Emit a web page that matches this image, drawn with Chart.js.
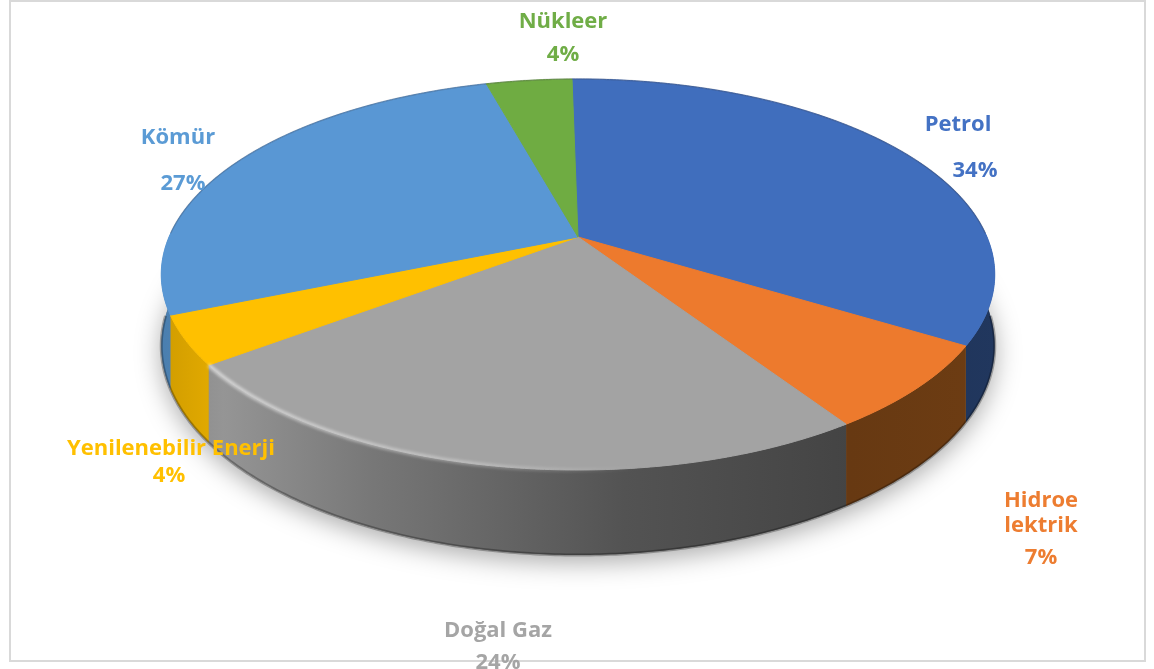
<!DOCTYPE html>
<html lang="tr">
<head>
<meta charset="utf-8">
<title>Enerji kaynakları</title>
<script src="https://cdn.jsdelivr.net/npm/chart.js@4/dist/chart.umd.min.js"></script>
<style>
  html,body{margin:0;padding:0;background:#fff;overflow:hidden}
  canvas{display:block;filter:blur(0.45px)}
</style>
</head>
<body>
<canvas id="pie" width="1154" height="669"></canvas>
<script>
// values as printed next to each slice
const categories = ['Petrol', 'Hidroelektrik', 'Doğal Gaz', 'Yenilenebilir Enerji', 'Kömür', 'Nükleer'];
const shares = [34, 7, 24, 4, 27, 4];
const sliceColors = ['#4472c4', '#ed7d31', '#a5a5a5', '#ffc000', '#5b9bd5', '#70ad47'];
const faceColors = ['#406ebd', '#ed7a2d', '#a3a3a3', '#ffc000', '#5997d4', '#6fac42'];
const sideColors = ['#4a7cd6', '#fb8a2c', '#a5a5a5', '#ffc000', '#5b9bd5', '#70ad47'];

// label text lines and where they sit, one entry per slice
const nameLines = [['Petrol'], ['Hidroe', 'lektrik'], ['Doğal Gaz'], ['Yenilenebilir Enerji'], ['Kömür'], ['Nükleer']];
const nameAnchors = [[[958, 125]], [[1041, 501], [1041, 526]], [[498, 631]], [[171, 449]], [[178, 138]], [[563, 22]]];
const shareAnchors = [[975, 171], [1041, 558], [498, 663], [169, 476], [183, 184], [563, 55]];

// perspective view of the disc
const view = {cx: 578, cy: 237, rx: 409, ry: 188.3, k: 0.1918, depth: 68.7};

function project(a, drop){
  const u = Math.cos(a), v = Math.sin(a), s = 1 / (1 - view.k * v);
  return [view.cx + view.rx * u * s, view.cy + view.ry * v * s + (drop ? view.depth * s : 0)];
}

function tracePts(ctx, from, to, drop, start){
  const n = Math.max(2, Math.ceil(Math.abs(to - from) / 0.01));
  for(let i = 0; i <= n; i++){
    const p = project(from + (to - from) * i / n, drop);
    if(i === 0 && start) ctx.moveTo(p[0], p[1]); else ctx.lineTo(p[0], p[1]);
  }
}

function shade(hex, f){
  const n = parseInt(hex.slice(1), 16);
  return `rgb(${Math.round((n >> 16 & 255) * f)},${Math.round((n >> 8 & 255) * f)},${Math.round((n & 255) * f)})`;
}

function sideFill(ctx, color){
  const g = ctx.createLinearGradient(165, 0, 1000, 0);
  g.addColorStop(0, shade(color, 0.82));
  g.addColorStop(0.07, shade(color, 0.9));
  g.addColorStop(0.25, shade(color, 0.72));
  g.addColorStop(0.55, shade(color, 0.5));
  g.addColorStop(0.82, shade(color, 0.41));
  g.addColorStop(1, shade(color, 0.44));
  return g;
}

// the pie controller lays out the angles, this one paints them in perspective
class Pie3DController extends Chart.PieController {
  draw(){
    const ctx = this.chart.ctx, arcs = this.getMeta().data;
    const sideFrom = -0.45, sideTo = Math.PI + 0.45;
    ctx.save();

    // soft shadow under the disc
    ctx.save();
    ctx.shadowColor = 'rgba(0,0,0,0.34)';
    ctx.shadowBlur = 26;
    ctx.shadowOffsetY = 7;
    ctx.fillStyle = '#888';
    ctx.beginPath();
    tracePts(ctx, 0, Math.PI * 2, true, true);
    ctx.closePath();
    ctx.fill();
    ctx.restore();

    // rim
    arcs.forEach((arc, i) => {
      const a0 = Math.max(arc.startAngle, sideFrom), a1 = Math.min(arc.endAngle, sideTo);
      if(a1 <= a0) return;
      ctx.fillStyle = sideFill(ctx, sideColors[i]);
      ctx.beginPath();
      tracePts(ctx, a0, a1, false, true);
      tracePts(ctx, a1, a0, true, false);
      ctx.closePath();
      ctx.fill();
    });

    // dark line along the bottom edge
    ctx.strokeStyle = 'rgba(0,0,0,0.28)';
    ctx.lineWidth = 3;
    ctx.beginPath();
    tracePts(ctx, 0.05, Math.PI - 0.05, true, true);
    ctx.stroke();

    // top faces
    arcs.forEach((arc, i) => {
      ctx.fillStyle = faceColors[i];
      ctx.strokeStyle = faceColors[i];
      ctx.lineWidth = 1;
      ctx.beginPath();
      ctx.moveTo(view.cx, view.cy);
      tracePts(ctx, arc.startAngle, arc.endAngle, false, false);
      ctx.closePath();
      ctx.fill();
      ctx.stroke();
    });

    // grey edge round the back of the disc
    ctx.strokeStyle = 'rgba(60,60,70,0.25)';
    ctx.lineWidth = 1.5;
    ctx.beginPath();
    tracePts(ctx, Math.PI + 0.02, Math.PI * 2 - 0.02, false, true);
    ctx.stroke();

    // light bevel on the front edge of the grey slice, fading to the right
    const bevel = ctx.createLinearGradient(215, 0, 640, 0);
    bevel.addColorStop(0, 'rgba(255,255,255,0.55)');
    bevel.addColorStop(0.6, 'rgba(255,255,255,0.3)');
    bevel.addColorStop(1, 'rgba(255,255,255,0)');
    ctx.save();
    ctx.filter = 'blur(1.5px)';
    ctx.strokeStyle = bevel;
    ctx.lineWidth = 4;
    ctx.beginPath();
    tracePts(ctx, Math.PI * 0.45, arcs[2].endAngle, false, true);
    ctx.stroke();
    ctx.restore();

    ctx.restore();
  }
}
Pie3DController.id = 'pie3d';
Chart.register(Pie3DController);

const framePlugin = {
  id: 'frame',
  beforeDraw(chart){
    const ctx = chart.ctx;
    ctx.save();
    ctx.fillStyle = '#fff';
    ctx.fillRect(0, 0, chart.width, chart.height);
    ctx.strokeStyle = '#d9d9d9';
    ctx.lineWidth = 2;
    ctx.strokeRect(10, 1, 1135, 660);
    ctx.restore();
  }
};

const labelPlugin = {
  id: 'sliceLabels',
  afterDatasetsDraw(chart){
    const ctx = chart.ctx;
    ctx.save();
    ctx.font = 'bold 22px "Open Sans"';
    ctx.textAlign = 'center';
    ctx.textBaseline = 'middle';
    categories.forEach((c, i) => {
      ctx.fillStyle = sliceColors[i];
      nameLines[i].forEach((line, j) => ctx.fillText(line, nameAnchors[i][j][0], nameAnchors[i][j][1]));
      ctx.fillText(shares[i] + '%', shareAnchors[i][0], shareAnchors[i][1]);
    });
    ctx.restore();
  }
};

new Chart(document.getElementById('pie'), {
  type: 'pie3d',
  data: {labels: categories, datasets: [{data: shares, backgroundColor: sliceColors}]},
  options: {
    responsive: false,
    animation: false,
    rotation: -1,
    plugins: {legend: {display: false}, tooltip: {enabled: false}}
  },
  plugins: [framePlugin, labelPlugin]
});
</script>
</body>
</html>
